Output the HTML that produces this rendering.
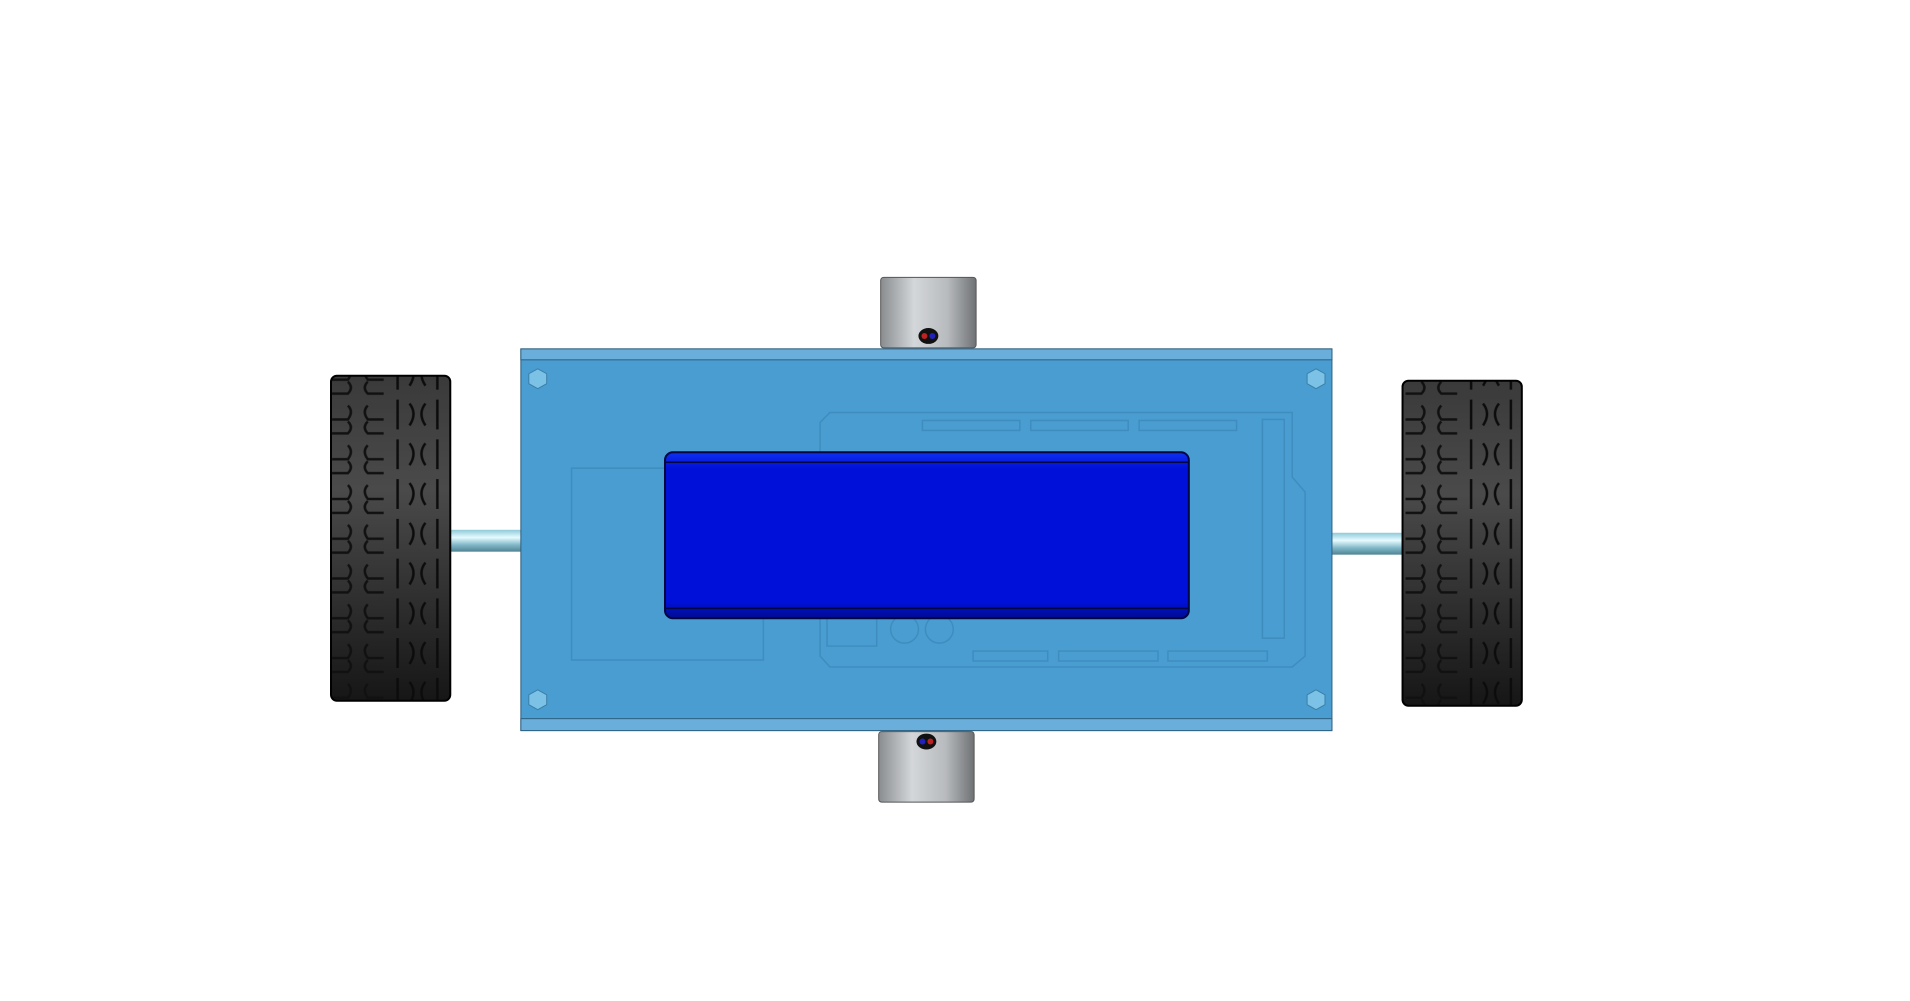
<!DOCTYPE html>
<html><head><meta charset="utf-8"><style>html,body{margin:0;padding:0;background:#fff}svg{display:block}</style></head>
<body>
<svg width="1910" height="1001" viewBox="0 0 1910 1001" xmlns="http://www.w3.org/2000/svg">
<defs>
<linearGradient id="cyl" x1="0" x2="1" y1="0" y2="0"><stop offset="0" stop-color="#8a8d90"/><stop offset="0.35" stop-color="#d4d7da"/><stop offset="0.7" stop-color="#b8bbbe"/><stop offset="1" stop-color="#6f7275"/></linearGradient>
<linearGradient id="axle" x1="0" x2="0" y1="0" y2="1"><stop offset="0" stop-color="#8fc9d8"/><stop offset="0.35" stop-color="#e6fbff"/><stop offset="0.7" stop-color="#7fb6c6"/><stop offset="1" stop-color="#4f8393"/></linearGradient>
<linearGradient id="tire" x1="0" x2="0" y1="0" y2="1"><stop offset="0" stop-color="#3a3a3a"/><stop offset="0.35" stop-color="#4a4a4a"/><stop offset="1" stop-color="#161616"/></linearGradient>
<linearGradient id="batt" x1="0" x2="0" y1="0" y2="1"><stop offset="0" stop-color="#1030f0"/><stop offset="0.1" stop-color="#0010d8"/><stop offset="0.9" stop-color="#0010d8"/><stop offset="1" stop-color="#000c90"/></linearGradient>
<pattern id="tread" x="0" y="0" width="120" height="40" patternUnits="userSpaceOnUse">
<path d="M10 8 q-6 6 0 14 h16 M10 24 q-6 6 0 12 h16 M110 8 q6 6 0 14 h-16 M110 24 q6 6 0 12 h-16" fill="none" stroke="#111" stroke-width="2.5"/>
<path d="M40 2 v30 M80 2 v30 M52 6 q8 10 0 22 M68 6 q-8 10 0 22" fill="none" stroke="#0c0c0c" stroke-width="2.5"/>
</pattern>
</defs>
<g transform="scale(0.994 0.994)">
<g><rect x="453" y="533" width="71" height="22" fill="url(#axle)"/></g>
<g><rect x="1340" y="536" width="71" height="22" fill="url(#axle)"/></g>

<g>
<rect x="333" y="378" width="120" height="327" rx="6" fill="url(#tire)"/>
<rect x="333" y="378" width="120" height="327" rx="6" fill="url(#tread)"/>
<rect x="333" y="378" width="120" height="327" rx="6" fill="none" stroke="#000" stroke-width="2"/>
</g>
<g>
<rect x="1411" y="383" width="120" height="327" rx="6" fill="url(#tire)"/>
<rect x="1411" y="383" width="120" height="327" rx="6" fill="url(#tread)"/>
<rect x="1411" y="383" width="120" height="327" rx="6" fill="none" stroke="#000" stroke-width="2"/>
</g>

<g>
<rect x="886" y="279" width="96" height="71" rx="3" fill="url(#cyl)" stroke="#555" stroke-width="1"/>
<ellipse cx="934" cy="338" rx="10" ry="8" fill="#111"/>
<circle cx="930" cy="338" r="3" fill="#b22"/><circle cx="938" cy="338" r="3" fill="#22b"/>
</g>
<g>
<rect x="884" y="736" width="96" height="71" rx="3" fill="url(#cyl)" stroke="#555" stroke-width="1"/>
<ellipse cx="932" cy="746" rx="10" ry="8" fill="#111"/>
<circle cx="928" cy="746" r="3" fill="#22b"/><circle cx="936" cy="746" r="3" fill="#b22"/>
</g>

<g>
<rect x="524" y="351" width="816" height="384" fill="#499dd1" stroke="#2d5f80" stroke-width="1"/>
<rect x="524" y="351" width="816" height="11" fill="#6aaedb" stroke="#2d5f80" stroke-width="1"/>
<rect x="524" y="723" width="816" height="12" fill="#6aaedb" stroke="#2d5f80" stroke-width="1"/>
<g fill="#7cc1e6" stroke="#3b7fa8" stroke-width="1">
<polygon points="541,371 550,376 550,386 541,391 532,386 532,376"/>
<polygon points="1324,371 1333,376 1333,386 1324,391 1315,386 1315,376"/>
<polygon points="541,694 550,699 550,709 541,714 532,709 532,699"/>
<polygon points="1324,694 1333,699 1333,709 1324,714 1315,709 1315,699"/>
</g>
</g>

<g fill="none" stroke="#3f8dbf" stroke-width="1.5">
<path d="M835 415 H1300 V480 L1313 495 V660 L1300 671 H835 L825 660 V425 Z"/>
<rect x="575" y="471" width="193" height="193"/>
<rect x="928" y="423" width="98" height="10"/><rect x="1037" y="423" width="98" height="10"/><rect x="1146" y="423" width="98" height="10"/>
<rect x="979" y="655" width="75" height="10"/><rect x="1065" y="655" width="100" height="10"/><rect x="1175" y="655" width="100" height="10"/>
<rect x="1270" y="422" width="22" height="220"/>
<circle cx="910" cy="633" r="14"/><circle cx="945" cy="633" r="14"/>
<rect x="832" y="620" width="50" height="30"/>
</g>

<g>
<rect x="669" y="455" width="527" height="167" rx="8" fill="url(#batt)" stroke="#000640" stroke-width="2"/>
<line x1="670" y1="465" x2="1195" y2="465" stroke="#000640" stroke-width="1.5"/>
<line x1="670" y1="612" x2="1195" y2="612" stroke="#000640" stroke-width="1.5"/>
</g>
</g>
</svg>
</body></html>
